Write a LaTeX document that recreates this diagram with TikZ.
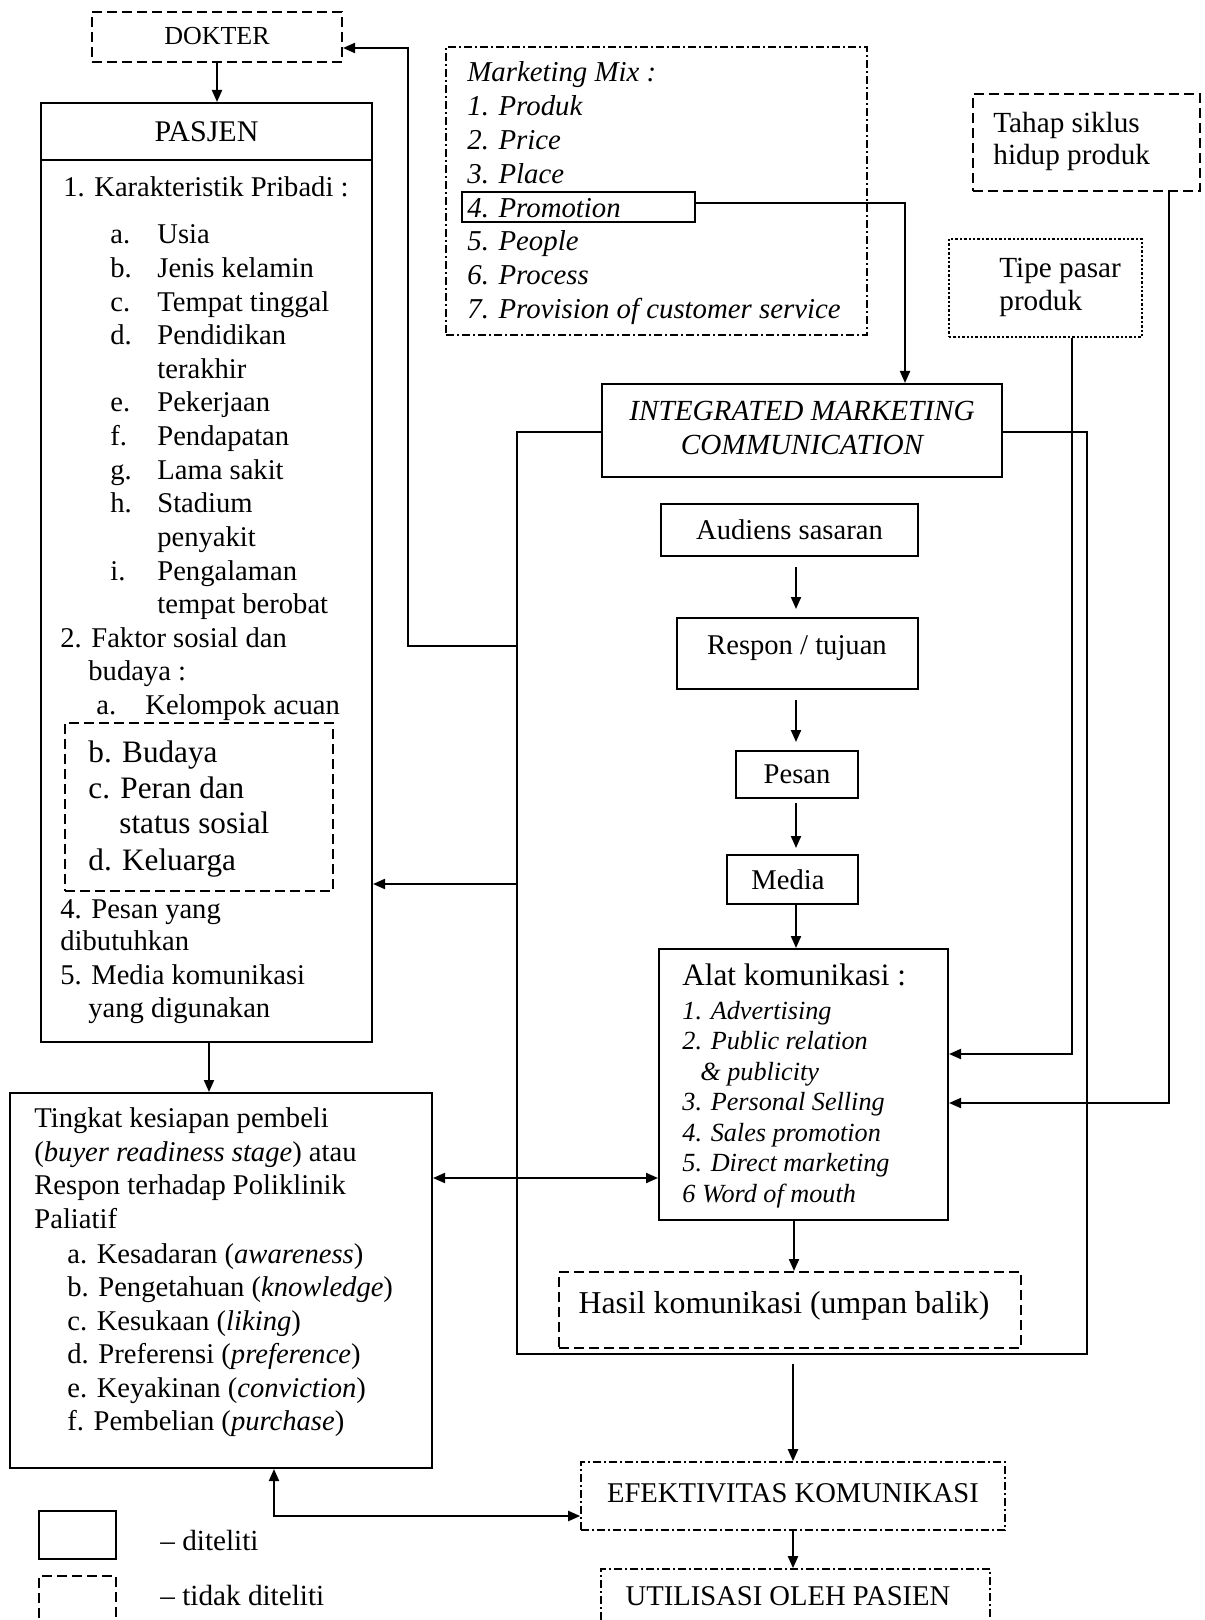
\documentclass[tikz,border=0pt]{standalone}
\usepackage{fontspec}
\setmainfont{Liberation Serif}
\usetikzlibrary{fit,arrows.meta,calc}
\newcommand\myfB{\fontsize{14.3pt}{16.8pt}\selectfont}
\newcommand\myfDok{\fontsize{13pt}{15pt}\selectfont}
\newcommand\myfTitle{\fontsize{15pt}{18pt}\selectfont}
\newcommand\myfGrp{\fontsize{15.6pt}{18pt}\selectfont}
\newcommand\myfHasil{\fontsize{15.9pt}{19pt}\selectfont}
\newcommand\myfAlat{\fontsize{15.6pt}{18pt}\selectfont}
\newcommand\myfAi{\fontsize{13.1pt}{15.25pt}\selectfont\itshape}
\newcommand\myfMM{\fontsize{14.4pt}{17pt}\selectfont\itshape}
\newcommand\myfSide{\fontsize{14.6pt}{17pt}\selectfont}
\tikzset{
 bx/.style={draw, line width=1pt, inner sep=0pt},
 solidbox/.style={bx},
 dashbox/.style={bx, dash pattern=on 5pt off 2.5pt},
 dotbox/.style={draw, inner sep=0pt, line width=0.6pt, dash pattern=on 1.2pt off 1pt},
 ddbox/.style={bx, line width=0.8pt, dash pattern=on 4pt off 1.5pt on 1pt off 1.5pt},
 con/.style={line width=1pt},
 arr/.style={con, -{Triangle[length=6pt,width=5pt]}},
 arrr/.style={con, {Triangle[length=6pt,width=5pt]}-{Triangle[length=6pt,width=5pt]}},
 txt/.style={inner sep=0pt, anchor=base west},
 ctxt/.style={inner sep=0pt, anchor=base},
 mtxt/.style={inner sep=0pt, anchor=center},
}
\begin{document}
\begin{tikzpicture}[x=0.5pt,y=-0.5pt]
\useasboundingbox (0,0) rectangle (1204,1620);
\fill[white] (0,0) rectangle (1204,1620);

% ---------- boxes ----------
\node[dashbox, fit={(92,12) (342,62)}] (dok) {};
\node[ctxt, font=\myfDok] (doktxt) at (217,45) {DOKTER};
\node[solidbox, fit={(41,103) (372,1042)}] (pas) {};
\draw[con] (pas.west |- 0,160) -- (pas.east |- 0,160);
\node[ctxt, font=\myfTitle] (pastitle) at (206.5,142) {PASJEN};
\node[dashbox, fit={(65,723) (333,891)}] (grp) {};

\node[ddbox, fit={(446,47) (867,335)}] (mm) {};
\node[bx, line width=0.9pt, fit={(462,192) (695,222)}] (promo) {};
\node[dashbox, fit={(973,94) (1200,191)}] (tahap) {};
\node[dotbox, fit={(949,239) (1142,337)}] (tipe) {};
\node[solidbox, fit={(602,384) (1002,477)}] (imc) {};
\node[solidbox, fit={(661,504) (918,556)}] (aud) {};
\node[mtxt, font=\myfB] (audtxt) at (aud.center) {Audiens sasaran};
\node[solidbox, fit={(677,618) (918,689)}] (resp) {};
\node[ctxt, font=\myfB] (resptxt) at (797,654) {Respon / tujuan};
\node[solidbox, fit={(736,751) (858,798)}] (pesan) {};
\node[mtxt, font=\myfB] (pesantxt) at (pesan.center) {Pesan};
\node[solidbox, fit={(727,855) (858,904)}] (media) {};
\node[mtxt, font=\myfB] (mediatxt) at (788,880) {Media};
\node[solidbox, fit={(659,949) (948,1220)}] (alat) {};
\node[dashbox, fit={(559,1272) (1021,1348)}] (hasil) {};
\node[ctxt, font=\myfHasil] (hasiltxt) at (784,1313) {Hasil komunikasi (umpan balik)};
\node[ddbox, fit={(581,1462) (1005,1530)}] (efek) {};
\node[ctxt, font=\myfB] (efektxt) at (793,1502) {EFEKTIVITAS KOMUNIKASI};
\node[ddbox, fit={(601,1569) (990,1660)}] (util) {};
\node[ctxt, font=\myfB] (utiltxt) at (788,1605) {UTILISASI OLEH PASIEN};
\node[solidbox, fit={(10,1093) (432,1468)}] (ting) {};
\node[solidbox, fit={(39,1511) (116,1559)}] (leg1) {};
\node[dashbox, fit={(39,1576) (116,1660)}] (leg2) {};

% ---------- texts ----------
\foreach \yy/\xx/\ttx [count=\i] in {
 197/63/{1. Karakteristik Pribadi :},
 244/110/{\makebox[23.5pt][l]{a.}Usia},
 277.6/110/{\makebox[23.5pt][l]{b.}Jenis kelamin},
 311.2/110/{\makebox[23.5pt][l]{c.}Tempat tinggal},
 344.8/110/{\makebox[23.5pt][l]{d.}Pendidikan},
 378.4/110/{\makebox[23.5pt][l]{}terakhir},
 412/110/{\makebox[23.5pt][l]{e.}Pekerjaan},
 445.6/110/{\makebox[23.5pt][l]{f.}Pendapatan},
 479.2/110/{\makebox[23.5pt][l]{g.}Lama sakit},
 512.8/110/{\makebox[23.5pt][l]{h.}Stadium},
 546.4/110/{\makebox[23.5pt][l]{}penyakit},
 580/110/{\makebox[23.5pt][l]{i.}Pengalaman},
 613.6/110/{\makebox[23.5pt][l]{}tempat berobat},
 647.2/60/{2. Faktor sosial dan},
 680.8/88/{budaya :},
 714.4/96/{\makebox[24.5pt][l]{a.}Kelompok acuan},
 918/60/{4. Pesan yang},
 950/60/{dibutuhkan},
 984/60/{5. Media komunikasi},
 1017/88/{yang digunakan}}
 \node[txt, font=\myfB] (pl\i) at (\xx,\yy) {\ttx};

\foreach \yy/\xx/\ttx [count=\i] in {
 762/88/{b. Budaya},
 798/88/{c. Peran dan},
 833/119/{status sosial},
 870/88/{d. Keluarga}}
 \node[txt, font=\myfGrp] (gl\i) at (\xx,\yy) {\ttx};

\foreach \yy/\ttx [count=\i] in {
 82/{Marketing Mix :},
 115.8/{1. Produk},
 149.6/{2. Price},
 183.4/{3. Place},
 217.2/{4. Promotion},
 251/{5. People},
 284.8/{6. Process},
 318.6/{7. Provision of customer service}}
 \node[txt, font=\myfMM] (ml\i) at (467,\yy) {\ttx};

\node[txt, font=\myfSide] (tahap1) at (993,133) {Tahap siklus};
\node[txt, font=\myfSide] (tahap2) at (993,165) {hidup produk};
\node[txt, font=\myfSide] (tipe1) at (999,278) {Tipe pasar};
\node[txt, font=\myfSide] (tipe2) at (999,311) {produk};

\node[ctxt, font=\myfSide\itshape] (imc1) at (802,421) {INTEGRATED MARKETING};
\node[ctxt, font=\myfSide\itshape] (imc2) at (802,454) {COMMUNICATION};

\node[txt, font=\myfAlat] (alat0) at (682,985) {Alat komunikasi :};
\foreach \yy/\xx/\ttx [count=\i] in {
 1019/682/{1. Advertising},
 1049.5/682/{2. Public relation},
 1080/700/{\& publicity},
 1110.5/682/{3. Personal Selling},
 1141/682/{4. Sales promotion},
 1171.5/682/{5. Direct marketing},
 1202/682/{6 Word of mouth}}
 \node[txt, font=\myfAi] (al\i) at (\xx,\yy) {\ttx};

\foreach \yy/\xx/\ttx [count=\i] in {
 1127.5/34/{Tingkat kesiapan pembeli},
 1161/34/{(\textit{buyer readiness stage}) atau},
 1194.5/34/{Respon terhadap Poliklinik},
 1228/34/{Paliatif},
 1263/67/{a. Kesadaran (\textit{awareness})},
 1296.5/67/{b. Pengetahuan (\textit{knowledge})},
 1330/67/{c. Kesukaan (\textit{liking})},
 1363.5/67/{d. Preferensi (\textit{preference})},
 1397/67/{e. Keyakinan (\textit{conviction})},
 1430.5/67/{f. Pembelian (\textit{purchase})}}
 \node[txt, font=\myfB] (tl\i) at (\xx,\yy) {\ttx};

\node[txt, font=\myfSide] (leg1t) at (160,1550) {– diteliti};
\node[txt, font=\myfSide] (leg2t) at (160,1605) {– tidak diteliti};

% ---------- connectors ----------
\coordinate (LL) at (517,432);
\coordinate (LR) at (1087,432);
\coordinate (BL) at (517,1354);
\coordinate (BR) at (1087,1354);
\draw[con] (imc.west |- LL) -- (LL) -- (BL) -- (BR) -- (LR) -- (imc.east |- LR);

\draw[arr] (dok.south) -- (dok.south |- pas.north);
\draw[arr] (LL |- 0,646) -- (408,646) -- (408,48) -- (dok.east |- 0,48);
\draw[arr] (LL |- 0,884) -- (pas.east |- 0,884);
\draw[arr] (promo.east |- 0,203) -- (905,203) -- (imc.north -| 905,0);
\draw[arr] (tipe.south -| 1072,0) -- (1072,1054) -- (alat.east |- 0,1054);
\draw[arr] (tahap.south -| 1169,0) -- (1169,1103) -- (alat.east |- 0,1103);
\draw[arr, shorten <=5pt, shorten >=4pt] (aud.south -| 796,0) -- (resp.north -| 796,0);
\draw[arr, shorten <=5pt, shorten >=4pt] (resp.south -| 796,0) -- (pesan.north -| 796,0);
\draw[arr, shorten <=2pt, shorten >=3pt] (pesan.south -| 796,0) -- (media.north -| 796,0);
\draw[arr] (media.south -| 796,0) -- (alat.north -| 796,0);
\draw[arrr] (ting.east |- 0,1178) -- (alat.west |- 0,1178);
\draw[arr] (alat.south -| 794,0) -- (hasil.north -| 794,0);
\coordinate (lb) at (793,1364);
\draw[arr] (lb) -- (efek.north -| lb);
\draw[arr] (efek.south -| 793,0) -- (util.north -| 793,0);
\draw[arr] (pas.south -| 209,0) -- (ting.north -| 209,0);
\draw[arrr] (ting.south -| 274,0) -- (274,1516) -- (efek.west |- 0,1516);
\end{tikzpicture}
\end{document}
